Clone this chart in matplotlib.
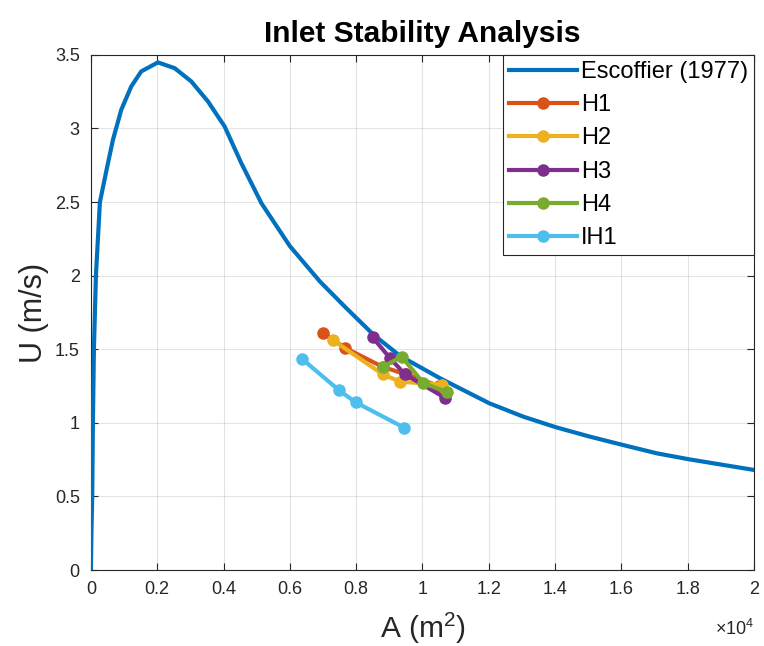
import numpy as np
import matplotlib
matplotlib.use('Agg')
import matplotlib.pyplot as plt

plt.rcParams['font.family'] = ['Liberation Sans', 'DejaVu Sans']
plt.rcParams['mathtext.fontset'] = 'custom'
plt.rcParams['mathtext.rm'] = 'Liberation Sans'
plt.rcParams['mathtext.it'] = 'Liberation Sans:italic'

# Escoffier curve (A in m^2, U in m/s)
esc_A = [0, 15, 39, 60, 90, 151, 271, 483, 664, 915, 1217, 1518, 2021, 2524,
         3027, 3529, 4032, 4535, 5148, 6003, 6908, 7700, 8516, 9321, 10528,
         12015, 13041, 14027, 15053, 16039, 17065, 18048, 19075, 20000]
esc_U = [0, 0.25, 0.5, 1.0, 1.5, 2.0, 2.5, 2.731, 2.923, 3.127, 3.286, 3.388,
         3.449, 3.41, 3.32, 3.184, 3.014, 2.765, 2.49, 2.2, 1.96, 1.78, 1.60,
         1.455, 1.303, 1.133, 1.042, 0.970, 0.906, 0.85, 0.793, 0.752, 0.714,
         0.68]

# Inlet states
h1_A = [7000, 7660, 8800, 9500, 10500]
h1_U = [1.61, 1.51, 1.38, 1.33, 1.25]
h2_A = [7310, 8800, 9320, 10580]
h2_U = [1.56, 1.33, 1.28, 1.26]
h3_A = [8500, 9020, 9470, 10680]
h3_U = [1.58, 1.44, 1.33, 1.17]
h4_A = [8800, 9370, 10030, 10730]
h4_U = [1.38, 1.45, 1.27, 1.21]
ih1_A = [6370, 7490, 7980, 9450]
ih1_U = [1.434, 1.22, 1.14, 0.967]

series = [
    ('H1', h1_A, h1_U, '#D95319'),
    ('H2', h2_A, h2_U, '#EDB120'),
    ('H3', h3_A, h3_U, '#7E2F8E'),
    ('H4', h4_A, h4_U, '#77AC30'),
    ('IH1', ih1_A, ih1_U, '#4DBEEE'),
]

fig = plt.figure(figsize=(7.64, 6.46), dpi=100)
ax = fig.add_axes([0.119, 0.1176, 0.868, 0.7974])

scale = 1e4
ax.plot(np.array(esc_A) / scale, esc_U, color='#0072BD', lw=3,
        label='Escoffier (1977)', zorder=3, solid_joinstyle='round')
for name, a, u, c in series:
    ax.plot(np.array(a) / scale, u, '-o', color=c, lw=3, ms=8,
            label=name, zorder=4)

ax.set_xlim(0, 2)
ax.set_ylim(0, 3.5)
ax.set_xticks(np.arange(0, 2.01, 0.2))
ax.set_xticklabels(['0', '0.2', '0.4', '0.6', '0.8', '1', '1.2', '1.4',
                    '1.6', '1.8', '2'])
ax.set_yticks(np.arange(0, 3.51, 0.5))
ax.set_yticklabels(['0', '0.5', '1', '1.5', '2', '2.5', '3', '3.5'])
ax.tick_params(direction='in', top=True, right=True, labelsize=13,
               length=5, color='#262626', labelcolor='#262626')
ax.tick_params(axis='x', pad=8)
ax.tick_params(axis='y', pad=8)
ax.grid(True, color='#262626', alpha=0.12, lw=0.8)
for s in ax.spines.values():
    s.set_color('#262626')
    s.set_linewidth(0.8)

ax.set_title('Inlet Stability Analysis', fontsize=21.5, fontweight='bold', pad=9)
ax.set_xlabel('A (m$^2$)', fontsize=21.5, color='#262626', labelpad=9)
ax.set_ylabel('U (m/s)', fontsize=22, color='#262626', labelpad=4)
ax.text(1.0, -0.095, r'$\times$10$^4$', transform=ax.transAxes, ha='right',
        va='top', fontsize=13, color='#262626')

leg = ax.legend(loc='upper right', fontsize=17, borderaxespad=0,
                handlelength=2.9, labelspacing=0.48, handletextpad=0.15,
                borderpad=0.25, fancybox=False, framealpha=1,
                edgecolor='#262626')
leg.get_frame().set_linewidth(0.8)

plt.savefig('out.png', dpi=100)
